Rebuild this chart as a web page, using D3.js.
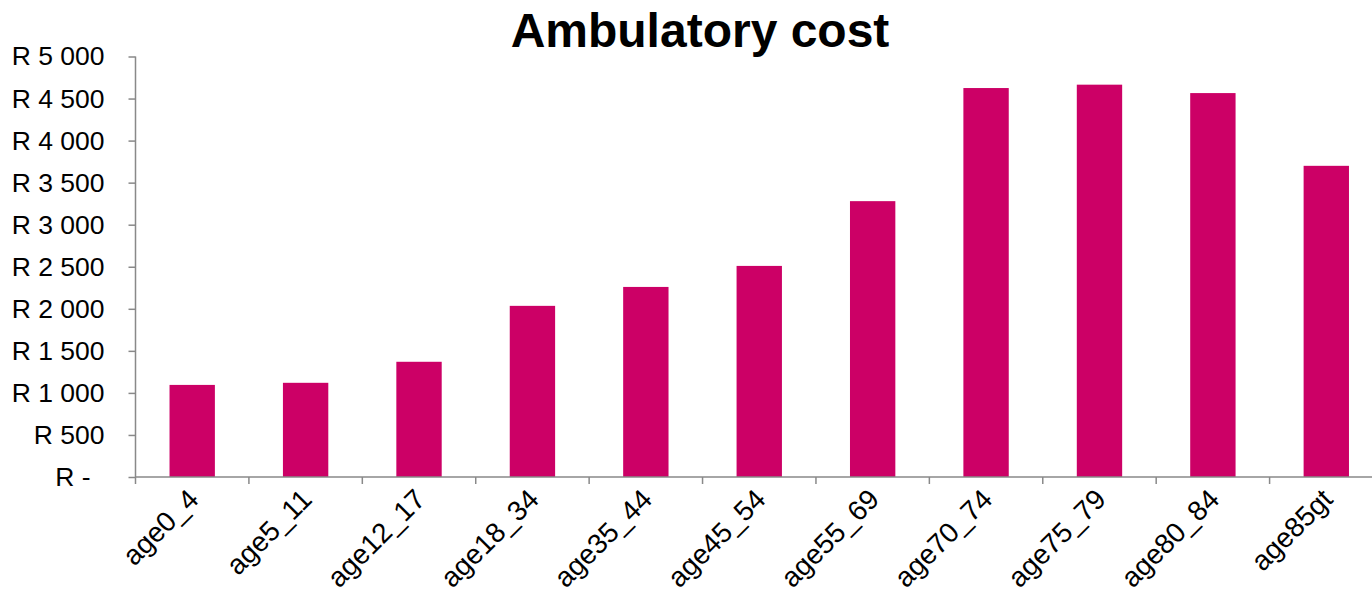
<!DOCTYPE html>
<html>
<head>
<meta charset="utf-8">
<script src="https://cdn.jsdelivr.net/npm/d3@7"></script>
<style>
  html, body { margin: 0; padding: 0; background: #fff; overflow: hidden; }
  svg { display: block; font-family: "Liberation Sans", Arial, sans-serif; }
</style>
</head>
<body>
<svg id="chart" width="1372" height="593"></svg>
<script>
// Average ambulatory cost per member, by age band (Rand)
const categories = ["age0_4", "age5_11", "age12_17", "age18_34", "age35_44", "age45_54",
                    "age55_69", "age70_74", "age75_79", "age80_84", "age85gt"];
const cost = [1095, 1120, 1370, 2035, 2260, 2510, 3280, 4625, 4665, 4565, 3700];
const yTicks = [0, 500, 1000, 1500, 2000, 2500, 3000, 3500, 4000, 4500, 5000];
const title = "Ambulatory cost";

const svg = d3.select("#chart");
const plotLeft = 135.5, plotTop = 56.5, plotBottom = 477, plotRight = 1383;

const x = d3.scaleBand().domain(categories).range([plotLeft, plotRight])
  .paddingInner(0.6).paddingOuter(0.3);
const y = d3.scaleLinear().domain([0, 5000]).range([plotBottom, plotTop]);

const locale = d3.formatLocale({ decimal: ".", thousands: " ", grouping: [3], currency: ["R ", ""] });
const fmt = locale.format("$,.0f");
const tickLabel = v => v === 0 ? "R -" : fmt(v);

const axisColor = "#898989";

// bars
svg.append("g").selectAll("rect").data(categories).join("rect")
  .attr("x", d => x(d))
  .attr("width", x.bandwidth())
  .attr("y", (d, i) => y(cost[i]))
  .attr("height", (d, i) => y(0) - y(cost[i]))
  .attr("fill", "#cc0066");

// y axis
const yAxis = svg.append("g")
  .attr("transform", `translate(${plotLeft},0)`)
  .call(d3.axisLeft(y).tickValues(yTicks).tickFormat(tickLabel).tickSize(7).tickPadding(24));
yAxis.select(".domain").attr("stroke", axisColor).attr("stroke-width", 1.5).attr("d", `M0,${plotTop}V${plotBottom}`);
yAxis.selectAll(".tick line").attr("stroke", axisColor).attr("stroke-width", 1.5);
yAxis.selectAll(".tick text")
  .attr("fill", "#000")
  .attr("font-size", 26.5)
  .attr("font-family", "Liberation Sans, Arial, sans-serif")
  .attr("dx", d => d === 0 ? -14 : 0);

// x axis: baseline, boundary ticks, rotated labels
const xg = svg.append("g");
xg.append("line")
  .attr("x1", plotLeft).attr("x2", plotRight).attr("y1", plotBottom).attr("y2", plotBottom)
  .attr("stroke", axisColor).attr("stroke-width", 1.5);
const half = (x.step() - x.bandwidth()) / 2;
const bounds = categories.map(c => x(c) - half).concat([x(categories[categories.length - 1]) + x.bandwidth() + half]);
xg.selectAll("line.tk").data(bounds).join("line").attr("class", "tk")
  .attr("x1", d => d).attr("x2", d => d)
  .attr("y1", plotBottom).attr("y2", plotBottom + 7)
  .attr("stroke", axisColor).attr("stroke-width", 1.5);
xg.selectAll("text").data(categories).join("text")
  .attr("transform", d => `translate(${x(d) + x.bandwidth() / 2 + 8},${plotBottom + 24}) rotate(-45)`)
  .attr("text-anchor", "end")
  .attr("font-size", 28)
  .attr("fill", "#000")
  .text(d => d);

// title
svg.append("text")
  .attr("x", 700).attr("y", 47)
  .attr("text-anchor", "middle")
  .attr("font-size", 48)
  .attr("font-weight", "bold")
  .attr("fill", "#000")
  .text(title);
</script>
</body>
</html>
